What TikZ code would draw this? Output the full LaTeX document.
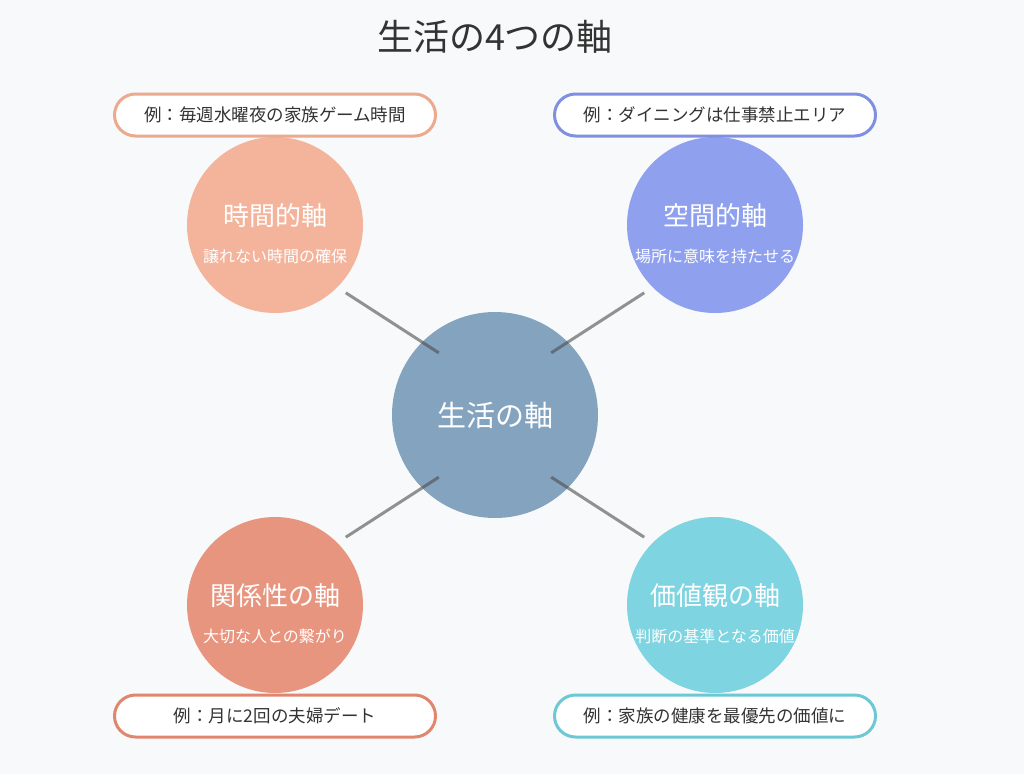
\documentclass[tikz,border=0pt]{standalone}
\usepackage{fontspec}
\setmainfont{Noto Sans CJK JP}
\usepackage{xcolor}
\usepackage{tikz}
\usetikzlibrary{positioning}
\definecolor{bgGray}{HTML}{F8F9FA}
\definecolor{textGray}{HTML}{333333}
\definecolor{coreBlue}{HTML}{84A3BF}
\definecolor{timeSalmon}{HTML}{F4B49B}
\definecolor{timeLine}{HTML}{EBA98D}
\definecolor{spaceBlue}{HTML}{8FA0EE}
\definecolor{spaceLine}{HTML}{7F90E0}
\definecolor{relCoral}{HTML}{E8957F}
\definecolor{relLine}{HTML}{E0866F}
\definecolor{valueCyan}{HTML}{7ED4E0}
\definecolor{valueLine}{HTML}{6CC8D4}
\tikzstyle{coreNode} = [
                circle,
                minimum size = 206pt,
                inner sep = 0pt,
                fill = coreBlue,
                text = white,
                font = \fontsize{29}{33}\selectfont
            ]
\tikzstyle{axisNode} = [circle, minimum size = 176pt, inner sep = 0pt]
\tikzstyle{headText} = [text = white, inner sep = 0pt, font = \fontsize{26}{30}\selectfont]
\tikzstyle{subText} = [text = white, inner sep = 0pt, font = \fontsize{16}{19}\selectfont]
\tikzstyle{exampleBox} = [
                rectangle,
                rounded corners = 21pt,
                minimum width = 321pt,
                minimum height = 42pt,
                line width = 3pt,
                fill = white,
                text = textGray,
                font = \fontsize{17.5}{20}\selectfont
            ]
\tikzstyle{link} = [line width = 3pt, draw = black!70, draw opacity = 0.6, shorten <= 10pt, shorten >= -20pt]

\begin{document}
\begin{tikzpicture}[x = 1pt, y = -1pt, node distance = 190pt]
                            \fill [bgGray] (0,0) rectangle (1024,774);
                            \useasboundingbox (0,0) rectangle (1024,774);
                            \node (title) [text = textGray, font = \fontsize{36}{40}\selectfont] at (495,37) {生活の4つの軸};
                            \node (life) [coreNode] at (495,415) {生活の軸};
                            \node (time) [axisNode, fill = timeSalmon, above of = life, xshift = -220pt] {};
                            \node (space) [axisNode, fill = spaceBlue, above of = life, xshift = 220pt] {};
                            \node (rel) [axisNode, fill = relCoral, below of = life, xshift = -220pt] {};
                            \node (value) [axisNode, fill = valueCyan, below of = life, xshift = 220pt] {};
                            \node (timeHead) [headText] at ([yshift = 9pt]time.center) {時間的軸};
                            \node (timeSub) [subText] at ([yshift = -31pt]time.center) {譲れない時間の確保};
                            \node (spaceHead) [headText] at ([yshift = 9pt]space.center) {空間的軸};
                            \node (spaceSub) [subText] at ([yshift = -31pt]space.center) {場所に意味を持たせる};
                            \node (relHead) [headText] at ([yshift = 9pt]rel.center) {関係性の軸};
                            \node (relSub) [subText] at ([yshift = -31pt]rel.center) {大切な人との繋がり};
                            \node (valueHead) [headText] at ([yshift = 9pt]value.center) {価値観の軸};
                            \node (valueSub) [subText] at ([yshift = -31pt]value.center) {判断の基準となる価値};
                            \draw [link] (time.-45) -- (life.135);
                            \draw [link] (space.-135) -- (life.45);
                            \draw [link] (rel.45) -- (life.-135);
                            \draw [link] (value.135) -- (life.-45);
                            \node (timeEx) [exampleBox, draw = timeLine, above of = time, yshift = -80pt] {例：毎週水曜夜の家族ゲーム時間};
                            \node (spaceEx) [exampleBox, draw = spaceLine, above of = space, yshift = -80pt] {例：ダイニングは仕事禁止エリア};
                            \node (relEx) [exampleBox, draw = relLine, below of = rel, yshift = 79pt] {例：月に2回の夫婦デート};
                            \node (valueEx) [exampleBox, draw = valueLine, below of = value, yshift = 79pt] {例：家族の健康を最優先の価値に};
                        \end{tikzpicture}
\end{document}
